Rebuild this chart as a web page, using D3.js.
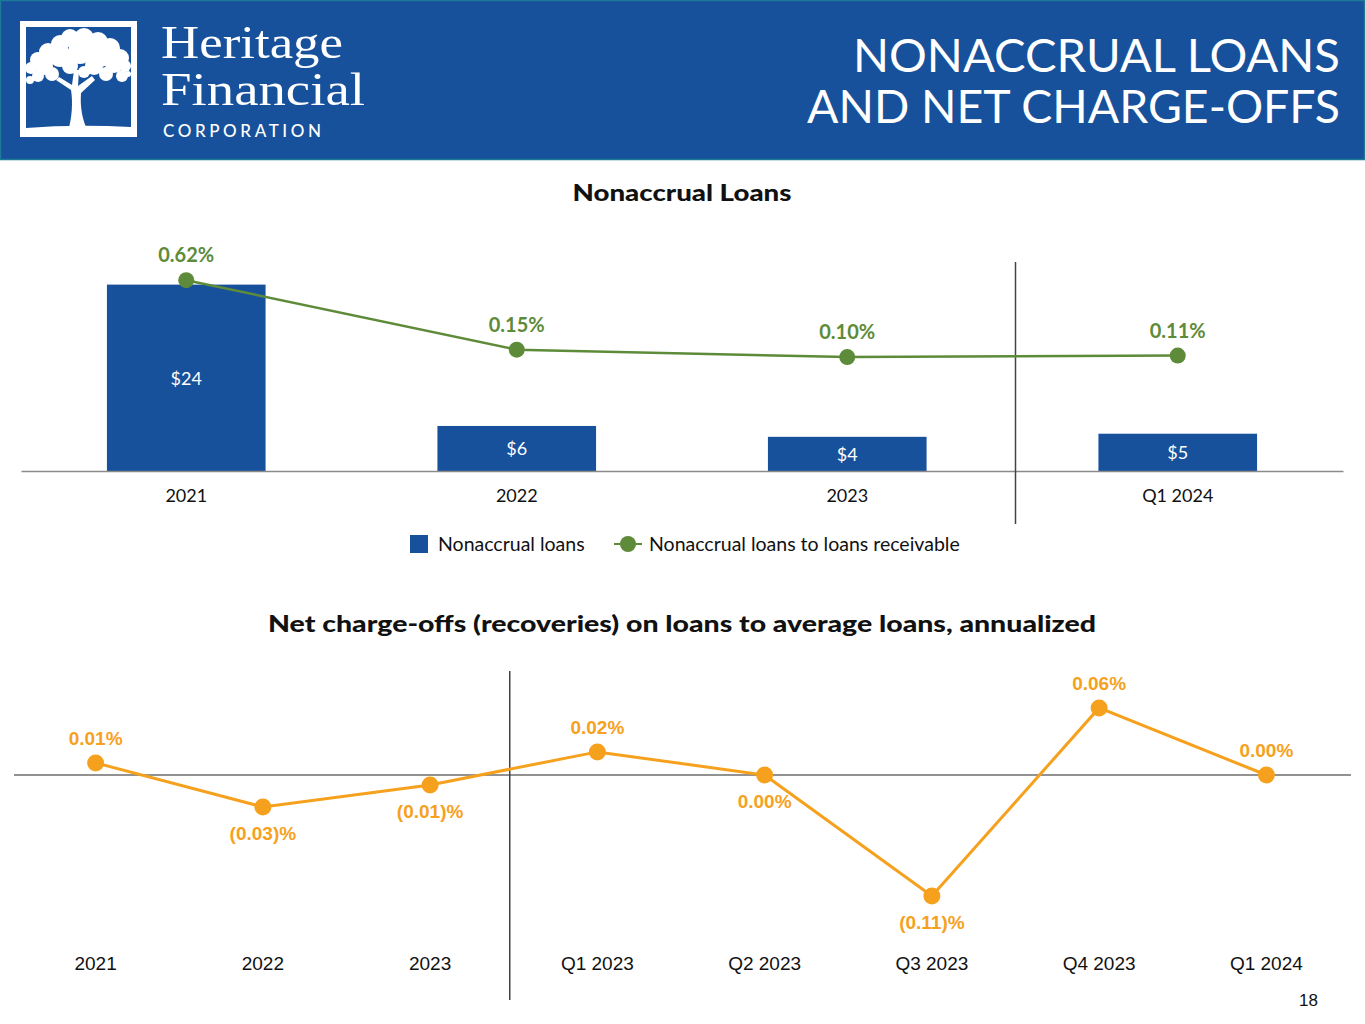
<!DOCTYPE html>
<html>
<head>
<meta charset="utf-8">
<script src="https://cdn.jsdelivr.net/npm/d3@7"></script>
<style>
  html, body { margin: 0; padding: 0; background: #fff; }
  svg { display: block; }
</style>
</head>
<body>
<svg id="chart" width="1365" height="1024"></svg>
<script>
// ---------- DATA ----------
const topCategories = ["2021", "2022", "2023", "Q1 2024"];
const nonaccrualLoans = [24, 5.8, 4.4, 4.8];            // $ millions
const nonaccrualLabels = ["$24", "$6", "$4", "$5"];
const nonaccrualRatio = [0.62, 0.15, 0.10, 0.11];      // %
const nonaccrualRatioLabels = ["0.62%", "0.15%", "0.10%", "0.11%"];

const bottomCategories = ["2021", "2022", "2023", "Q1 2023", "Q2 2023", "Q3 2023", "Q4 2023", "Q1 2024"];
const netChargeOffs = [0.011, -0.029, -0.009, 0.021, 0.0, -0.11, 0.061, 0.0]; // %
const netChargeOffLabels = ["0.01%", "(0.03)%", "(0.01)%", "0.02%", "0.00%", "(0.11)%", "0.06%", "0.00%"];
const netChargeOffLabelSide = ["above", "below", "below", "above", "below", "below", "above", "above"];

const legendItems = ["Nonaccrual loans", "Nonaccrual loans to loans receivable"];

// ---------- STYLE ----------
const BLUE = "#17519c";
const GREEN = "#5e8b39";
const ORANGE = "#f6a11d";
const SANS = "Lato, 'Noto Sans', sans-serif";
const ARIAL = "'Liberation Sans', Arial, sans-serif";

const svg = d3.select("#chart");

// ---------- HEADER ----------
svg.append("rect").attr("x", 0).attr("y", 0).attr("width", 1365).attr("height", 160).attr("fill", BLUE);
svg.append("rect").attr("x", 0.5).attr("y", 0.5).attr("width", 1364).attr("height", 159)
  .attr("fill", "none").attr("stroke", "#1d7a96").attr("stroke-width", 1.5);

// logo box
const logo = svg.append("g");
logo.append("rect").attr("x", 20).attr("y", 21).attr("width", 117).attr("height", 116).attr("fill", "#fff");
logo.append("rect").attr("x", 26).attr("y", 27).attr("width", 105).attr("height", 104).attr("fill", BLUE);
// tree canopy
const canopy = [
  [60, 44, 9], [70, 38, 9], [84, 38, 10], [98, 42, 10], [110, 48, 10], [120, 58, 9],
  [48, 52, 9], [38, 60, 8], [31, 68, 6], [44, 66, 9], [60, 56, 11], [80, 52, 12], [100, 56, 11],
  [114, 64, 9], [125, 66, 6], [94, 66, 9], [70, 66, 8], [52, 74, 7], [38, 76, 6], [106, 74, 7], [122, 76, 6],
  [84, 72, 6], [30, 80, 4], [128, 74, 3]
];
logo.selectAll("circle.canopy").data(canopy).join("circle")
  .attr("class", "canopy").attr("cx", d => d[0]).attr("cy", d => d[1]).attr("r", d => d[2]).attr("fill", "#fff");
// trunk and branches
logo.append("path")
  .attr("d", "M68,131 C72,118 73,102 71,90 L56,80 L59,77 L72,85 L74,70 L79,70 L78,86 L92,76 L95,80 L81,93 C80,106 82,120 88,131 Z")
  .attr("fill", "#fff");
logo.append("path")
  .attr("d", "M26,128 Q75,124 131,127 L131,131 L26,131 Z").attr("fill", "#fff");

svg.append("text").attr("x", 161).attr("y", 58).text("Heritage")
  .attr("font-family", "'Liberation Serif', 'DejaVu Serif', serif").attr("font-size", 46)
  .attr("fill", "#fff").attr("textLength", 182).attr("lengthAdjust", "spacingAndGlyphs");
svg.append("text").attr("x", 161).attr("y", 105).text("Financial")
  .attr("font-family", "'Liberation Serif', 'DejaVu Serif', serif").attr("font-size", 46)
  .attr("fill", "#fff").attr("textLength", 204).attr("lengthAdjust", "spacingAndGlyphs");
svg.append("text").attr("x", 163).attr("y", 137).text("CORPORATION")
  .attr("font-family", SANS).attr("font-size", 17).attr("font-weight", 500)
  .attr("fill", "#fff").attr("textLength", 158).attr("lengthAdjust", "spacing");

svg.append("text").attr("x", 1340).attr("y", 72).attr("text-anchor", "end").text("NONACCRUAL LOANS")
  .attr("font-family", SANS).attr("font-size", 47).attr("font-weight", 400).attr("fill", "#fff")
  .attr("textLength", 487).attr("lengthAdjust", "spacingAndGlyphs");
svg.append("text").attr("x", 1340).attr("y", 123).attr("text-anchor", "end").text("AND NET CHARGE-OFFS")
  .attr("font-family", SANS).attr("font-size", 47).attr("font-weight", 400).attr("fill", "#fff")
  .attr("textLength", 533).attr("lengthAdjust", "spacingAndGlyphs");

// ---------- TOP CHART ----------
svg.append("text").attr("x", 682).attr("y", 201).attr("text-anchor", "middle").text("Nonaccrual Loans")
  .attr("font-family", SANS).attr("font-size", 23).attr("font-weight", 900).attr("fill", "#111")
  .attr("textLength", 219).attr("lengthAdjust", "spacingAndGlyphs");

const xTop = d3.scaleBand().domain(topCategories).range([21, 1343]).paddingInner(0.52).paddingOuter(0.26);
const yBar = d3.scaleLinear().domain([0, 30]).range([471, 238]);
const yRatio = d3.scaleLinear().domain([-0.67, 0.905]).range([471, 238]);

const topG = svg.append("g");
topG.selectAll("rect.bar").data(topCategories).join("rect")
  .attr("class", "bar")
  .attr("x", d => xTop(d)).attr("width", xTop.bandwidth())
  .attr("y", (d, i) => yBar(nonaccrualLoans[i]))
  .attr("height", (d, i) => yBar(0) - yBar(nonaccrualLoans[i]))
  .attr("fill", BLUE);
topG.selectAll("text.barlbl").data(topCategories).join("text")
  .attr("class", "barlbl")
  .attr("x", d => xTop(d) + xTop.bandwidth() / 2)
  .attr("y", (d, i) => (yBar(nonaccrualLoans[i]) + yBar(0)) / 2 + 7)
  .attr("text-anchor", "middle").attr("font-family", SANS).attr("font-size", 18).attr("fill", "#fff")
  .text((d, i) => nonaccrualLabels[i]);

// axis baseline
const xAxisTop = d3.axisBottom(xTop).tickSize(0).tickPadding(18);
const gx = topG.append("g").attr("transform", `translate(0,${yBar(0)})`).call(xAxisTop);
gx.select(".domain").attr("stroke", "#8a8a8a").attr("stroke-width", 1.5);
gx.selectAll(".tick text").attr("font-family", SANS).attr("font-size", 18).attr("fill", "#111");

// divider
const divTop = (xTop("2023") + xTop.bandwidth() + xTop("Q1 2024")) / 2 + 3;
topG.append("line").attr("x1", divTop).attr("x2", divTop).attr("y1", 262).attr("y2", 524)
  .attr("stroke", "#444").attr("stroke-width", 1.5);

// ratio line
const lineTop = d3.line()
  .x((d, i) => xTop(topCategories[i]) + xTop.bandwidth() / 2)
  .y(d => yRatio(d));
topG.append("path").datum(nonaccrualRatio).attr("d", lineTop)
  .attr("fill", "none").attr("stroke", GREEN).attr("stroke-width", 2.5);
topG.selectAll("circle.pt").data(nonaccrualRatio).join("circle")
  .attr("class", "pt")
  .attr("cx", (d, i) => xTop(topCategories[i]) + xTop.bandwidth() / 2)
  .attr("cy", d => yRatio(d)).attr("r", 8).attr("fill", GREEN);
topG.selectAll("text.ptlbl").data(nonaccrualRatio).join("text")
  .attr("class", "ptlbl")
  .attr("x", (d, i) => xTop(topCategories[i]) + xTop.bandwidth() / 2)
  .attr("y", d => yRatio(d) - 18)
  .attr("text-anchor", "middle").attr("font-family", SANS).attr("font-size", 20).attr("font-weight", 700)
  .attr("fill", GREEN).text((d, i) => nonaccrualRatioLabels[i]);

// legend
const leg = svg.append("g");
leg.append("rect").attr("x", 410).attr("y", 535).attr("width", 18).attr("height", 18).attr("fill", BLUE);
leg.append("text").attr("x", 438).attr("y", 551).text(legendItems[0])
  .attr("font-family", SANS).attr("font-size", 19.5).attr("fill", "#111");
leg.append("line").attr("x1", 614).attr("x2", 642).attr("y1", 544).attr("y2", 544)
  .attr("stroke", GREEN).attr("stroke-width", 2);
leg.append("circle").attr("cx", 628).attr("cy", 544).attr("r", 8).attr("fill", GREEN);
leg.append("text").attr("x", 649).attr("y", 551).text(legendItems[1])
  .attr("font-family", SANS).attr("font-size", 19.5).attr("fill", "#111");

// ---------- BOTTOM CHART ----------
svg.append("text").attr("x", 682).attr("y", 632).attr("text-anchor", "middle")
  .text("Net charge-offs (recoveries) on loans to average loans, annualized")
  .attr("font-family", SANS).attr("font-size", 23).attr("font-weight", 900).attr("fill", "#111")
  .attr("textLength", 828).attr("lengthAdjust", "spacingAndGlyphs");

const xBot = d3.scaleBand().domain(bottomCategories).range([12, 1350]);
const yBot = d3.scaleLinear().domain([-0.14, 0.09]).range([929, 676]);
const cx = c => xBot(c) + xBot.bandwidth() / 2;

const bot = svg.append("g");
// zero line
bot.append("line").attr("x1", 14).attr("x2", 1351).attr("y1", yBot(0)).attr("y2", yBot(0))
  .attr("stroke", "#6e6e6e").attr("stroke-width", 1.5);
// divider
const divBot = (cx("2023") + cx("Q1 2023")) / 2 - 4;
bot.append("line").attr("x1", divBot).attr("x2", divBot).attr("y1", 671).attr("y2", 1000)
  .attr("stroke", "#444").attr("stroke-width", 1.5);

// category labels via axis
const xAxisBot = d3.axisBottom(xBot).tickSize(0).tickPadding(0);
const gxb = bot.append("g").attr("transform", "translate(0,960)").call(xAxisBot);
gxb.select(".domain").remove();
gxb.selectAll(".tick text").attr("font-family", ARIAL).attr("font-size", 19).attr("fill", "#111")
  .attr("dy", "0.55em");

const lineBot = d3.line().x((d, i) => cx(bottomCategories[i])).y(d => yBot(d));
bot.append("path").datum(netChargeOffs).attr("d", lineBot)
  .attr("fill", "none").attr("stroke", ORANGE).attr("stroke-width", 3);
bot.selectAll("circle.pt").data(netChargeOffs).join("circle")
  .attr("class", "pt").attr("cx", (d, i) => cx(bottomCategories[i])).attr("cy", d => yBot(d))
  .attr("r", 8.5).attr("fill", ORANGE);
bot.selectAll("text.ptlbl").data(netChargeOffs).join("text")
  .attr("class", "ptlbl")
  .attr("x", (d, i) => cx(bottomCategories[i]))
  .attr("y", (d, i) => netChargeOffLabelSide[i] === "above" ? yBot(d) - 18 : yBot(d) + 33)
  .attr("text-anchor", "middle").attr("font-family", ARIAL).attr("font-size", 19).attr("font-weight", 700)
  .attr("fill", ORANGE).text((d, i) => netChargeOffLabels[i]);

// page number
svg.append("text").attr("x", 1318).attr("y", 1006).attr("text-anchor", "end").text("18")
  .attr("font-family", ARIAL).attr("font-size", 17).attr("fill", "#111");
</script>
</body>
</html>
